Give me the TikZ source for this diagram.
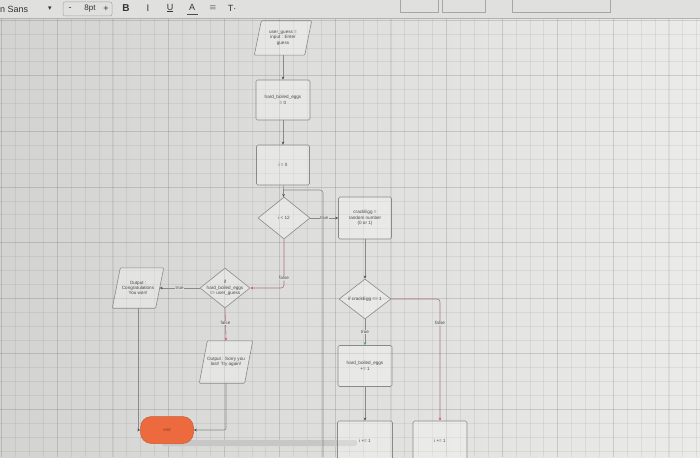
\documentclass[tikz,border=0pt]{standalone}
\usepackage{fontspec}
\setmainfont{Liberation Sans}
\newfontfamily\dejavu{DejaVu Sans}
\usetikzlibrary{shapes.geometric,arrows.meta}
\definecolor{bgL}{HTML}{D3D3D1}
\definecolor{bgR}{HTML}{EBEBE9}
\definecolor{edgec}{HTML}{8A8A8A}
\definecolor{ink}{HTML}{4A4A4A}
\definecolor{arrred}{HTML}{D9536A}
\definecolor{arrgreen}{HTML}{3FA37A}
\definecolor{endorange}{HTML}{EC6A3E}
\definecolor{tbar}{HTML}{E0E0DE}
\tikzset{
  txt/.style={text=ink, font=\fontsize{4.6}{5.4}\selectfont, align=center},
  box/.style={draw=edgec, line width=0.6pt, rounded corners=1.5pt, fill=white, fill opacity=0.3, text opacity=1, txt, inner sep=1pt},
  hold/.style={inner sep=0pt, txt},
  paraline/.style={draw=edgec, line width=0.6pt, fill=white, fill opacity=0.3, rounded corners=1pt},
  dia/.style={draw=edgec, line width=0.6pt, diamond, fill=white, fill opacity=0.3, inner sep=0pt},
  inlbl/.style={label={[txt, text opacity=1]center:#1}},
  conn/.style={draw=edgec, line width=0.6pt, -{Stealth[length=3pt,width=2.6pt,color=ink]}},
  connr/.style={draw=arrred!45!edgec, line width=0.6pt, -{Stealth[length=3pt,width=2.6pt,color=arrred]}},
  conng/.style={draw=edgec, line width=0.6pt, -{Stealth[length=3pt,width=2.6pt,color=arrgreen]}},
  plain/.style={draw=edgec, line width=0.6pt},
  lbl/.style={txt, fill=bgR!55!bgL, inner sep=0.6pt},
  tb/.style={text=black!80, font=\fontsize{9}{10}\selectfont, inner sep=0pt},
  gmin/.style={black, opacity=0.06, line width=0.4pt},
  gmaj/.style={black, opacity=0.07, line width=0.5pt}
}
\begin{document}
\begin{tikzpicture}[x=1pt,y=-1pt]
\useasboundingbox (0,0) rectangle (700,457);
% background
\shade[left color=bgL, right color=bgR] (0,0) rectangle (700,457);
\foreach \i in {0,...,50} {
  \draw[gmin] ({1.5+13.9*\i},19) -- ({1.5+13.9*\i},457);
}
\foreach \i in {0,...,12} {
  \draw[gmaj] ({1.5+55.6*\i},19) -- ({1.5+55.6*\i},457);
}
\foreach \i in {0,...,32} {
  \draw[gmin] (0,{20+13.9*\i}) -- (700,{20+13.9*\i});
}
\foreach \i in {0,...,8} {
  \draw[gmaj] (0,{20+55.6*\i}) -- (700,{20+55.6*\i});
}
% toolbar
\fill[tbar] (0,0) rectangle (700,18);
\draw[black!30, line width=0.5pt] (0,18) -- (700,18);
\node[tb, anchor=west] (tfont) at (0,9) {n Sans};
\node[tb, font=\dejavu\fontsize{7}{8}\selectfont] (tdrop) at (50,9) {▾};
\draw[black!35, line width=0.5pt, rounded corners=2pt] (63,2) rectangle (112,16);
\node[tb] (tminus) at (70,9) {-};
\node[tb, font=\fontsize{8}{9}\selectfont] (tsize) at (90,9) {8pt};
\node[tb] (tplus) at (106,9) {+};
\node[tb, font=\bfseries\fontsize{10}{11}\selectfont] (tbold) at (126,8) {B};
\node[tb, font=\dejavu\fontsize{9}{10}\selectfont] (tital) at (148,8) {I};
\node[tb] (tund) at (170,8) {\underline{U}};
\node[tb] (tcol) at (192,7) {A};
\fill[black!70] (187,14) rectangle (198,15.5);
\node[tb, font=\dejavu\fontsize{9}{10}\selectfont, text=black!50] (talign) at (213,8) {≡};
\node[tb] (tsz) at (232,8) {T\textperiodcentered};
\draw[black!35, line width=0.5pt] (400,0) -- (400,12) -- (438,12) -- (438,0);
\draw[black!35, line width=0.5pt] (442,0) -- (442,12) -- (485,12) -- (485,0);
\draw[black!35, line width=0.5pt] (512,0) -- (512,12) -- (610,12) -- (610,0);
% scrollbar
\fill[black!22, rounded corners=2pt] (162,440) rectangle (357,446);
% parallelogram holders
\node[hold, minimum width=57pt, minimum height=34pt] (in1) at (283,38) {};
\node[hold, minimum width=51pt, minimum height=40pt] (won) at (138,288) {};
\node[hold, minimum width=53pt, minimum height=42pt] (lost) at (226,362) {};
\foreach \p/\s in {in1/7,won/8,lost/8} {
  \draw[paraline] (\p.south west) -- ([xshift=-\s pt]\p.south east) -- (\p.north east) -- ([xshift=\s pt]\p.north west) -- cycle;
}
\node[txt] (in1t) at (in1) {user\_guess =\\input : Enter\\guess};
\node[txt] (wont) at (won) {Output :\\Congratulations\\You won!};
\node[txt] (lostt) at (lost) {Output : Sorry you\\lost! Try again!};
% other nodes
\node[box, minimum width=54pt, minimum height=40pt] (hb0) at (283,100) {hard\_boiled\_eggs\\= 0};
\node[box, minimum width=53pt, minimum height=40pt] (i0) at (283,165) {i = 0};
\node[dia, minimum width=52pt, minimum height=42pt, inlbl={i < 12}] (d1) at (284,218) {};
\node[box, minimum width=53pt, minimum height=42pt] (crack) at (365,218) {crackEgg =\\random number\\(0 or 1)};
\node[dia, minimum width=52pt, minimum height=40pt, inlbl={if crackEgg == 1}] (d2) at (365,299) {};
\node[box, minimum width=54pt, minimum height=41pt] (hb1) at (365,366) {hard\_boiled\_eggs\\+= 1};
\node[box, minimum width=55pt, minimum height=40pt] (inc1) at (365,441) {i += 1};
\node[box, minimum width=54pt, minimum height=40pt] (inc2) at (440,441) {i += 1};
\node[dia, minimum width=50pt, minimum height=40pt, inlbl={if\\hard\_boiled\_eggs\\== user\_guess}] (d3) at (225,288) {};
\node[draw=endorange!85!black, line width=0.5pt, fill=endorange, rounded corners=11pt, minimum width=53pt, minimum height=27pt, text=endorange!60!black, font=\fontsize{4.4}{5}\selectfont] (endn) at (167,430) {end};
% connectors
\draw[conn] (in1) -- (hb0);
\draw[conn] (hb0) -- (i0);
\draw[conn] (i0) -- (d1);
\draw[conn] (d1.east) -- node[lbl] {true} (crack.west);
\draw[conn] (crack) -- (d2);
\draw[conng] (d2.south) -- node[lbl] {true} (hb1.north);
\draw[conn] (hb1) -- (inc1);
\draw[connr, rounded corners=3pt] (d2.east) -| node[lbl, pos=0.6] {false} (inc2.north);
\draw[connr, rounded corners=3pt] (d1.south) |- node[lbl, pos=0.4] {false} (d3.east);
\draw[conn] (d3.west) -- node[lbl] {true} ([xshift=-4pt]won.east);
\draw[connr] (d3.south) -- node[lbl, pos=0.45] {false} (lost.north);
\draw[conn] (won.south) |- (endn.west);
\draw[conn, rounded corners=2pt] (lost.south) |- (endn.east);
\coordinate (loopbot) at (323,457);
\coordinate (loopjoin) at (284,190);
\draw[plain, rounded corners=3pt] (loopbot) |- (loopjoin);
\end{tikzpicture}
\end{document}
